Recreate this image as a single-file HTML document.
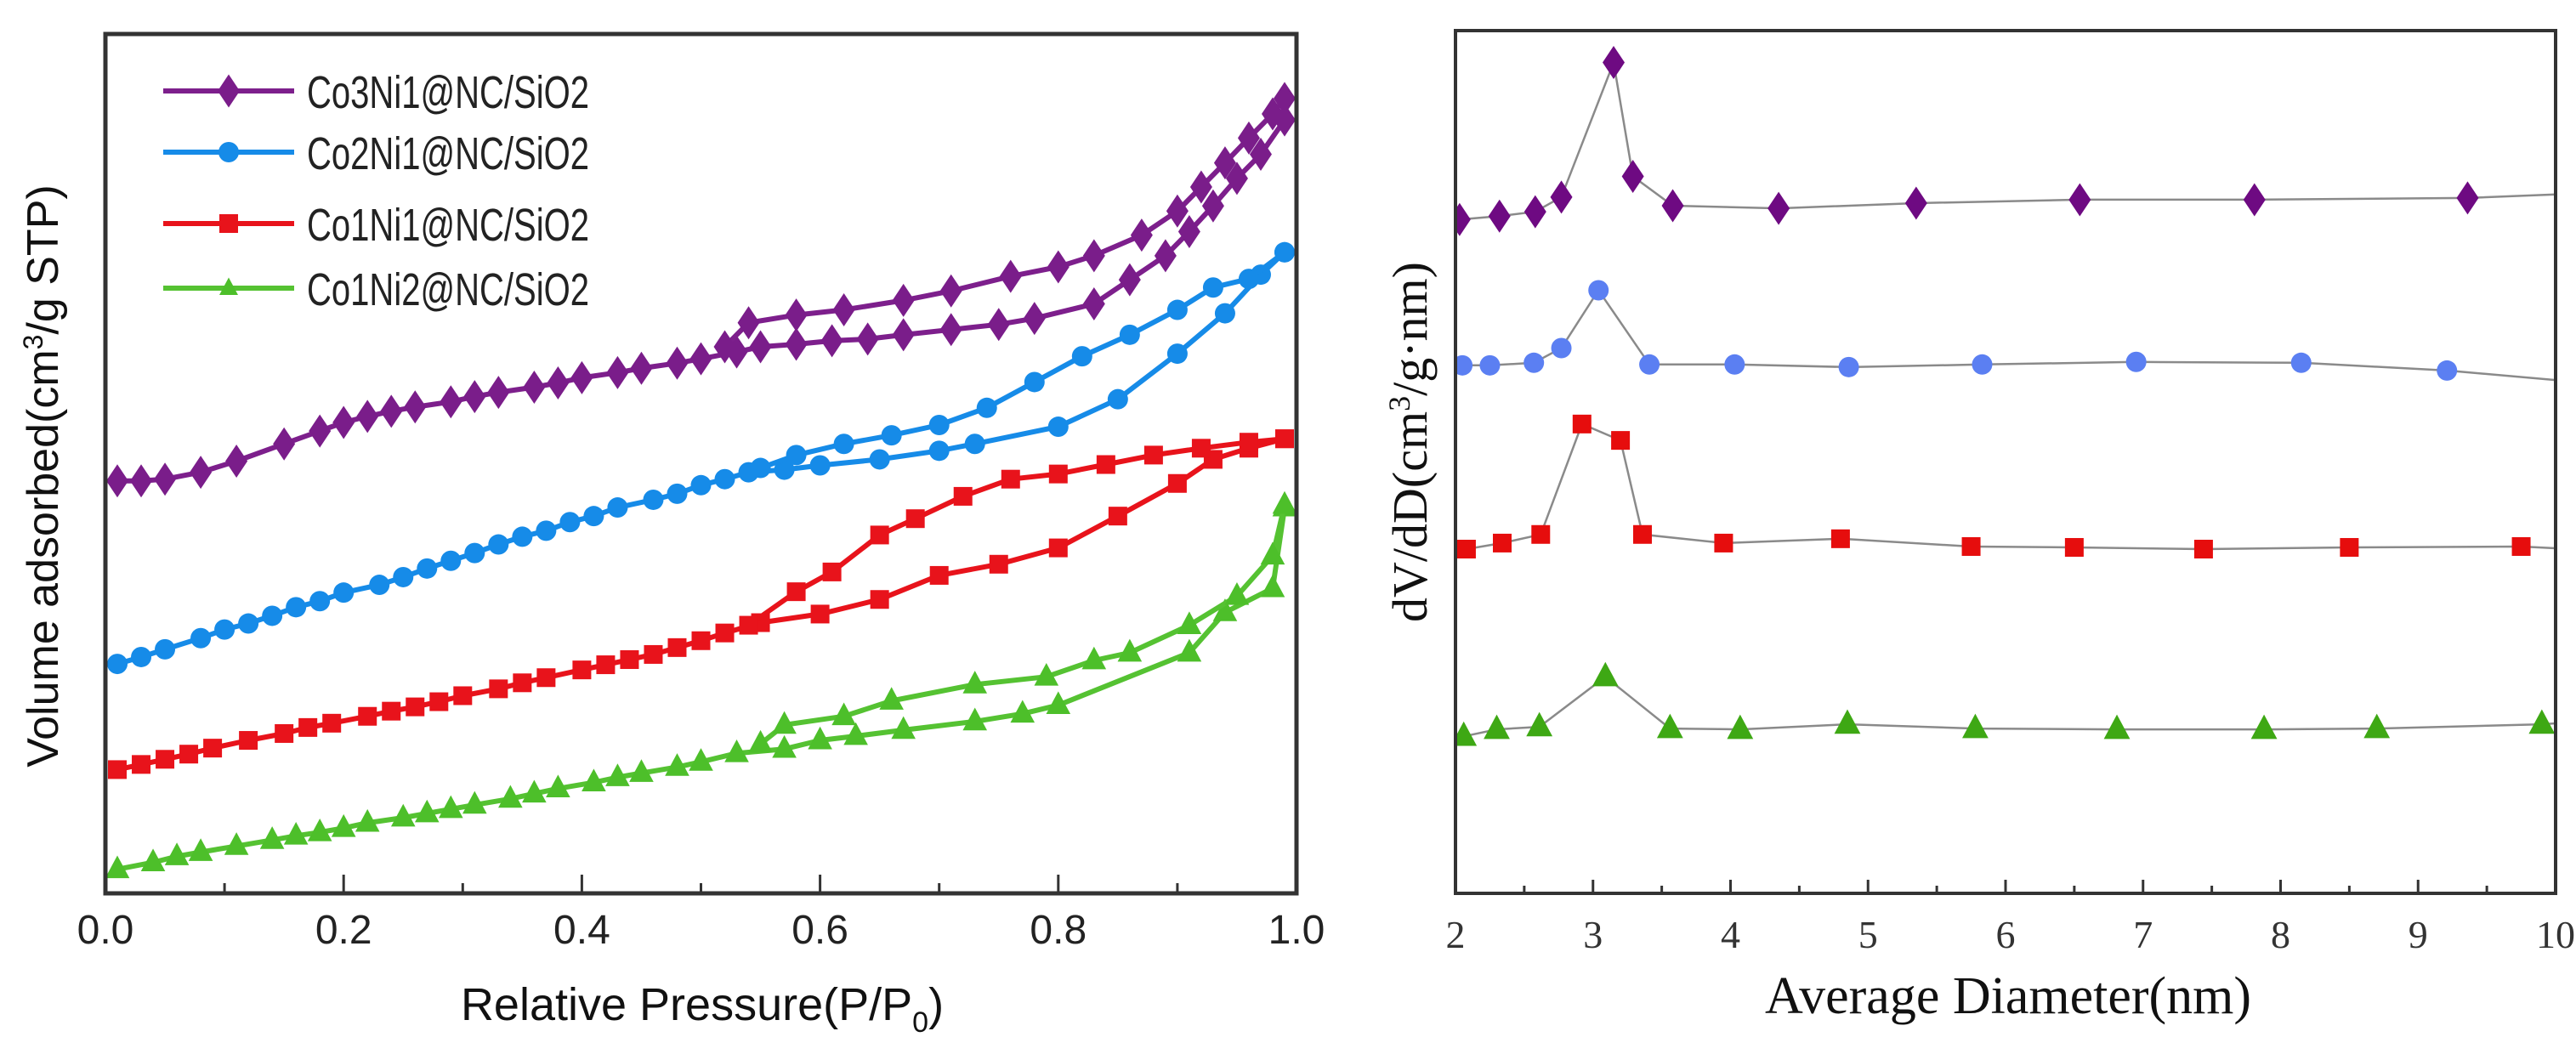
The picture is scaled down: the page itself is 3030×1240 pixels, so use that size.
<!DOCTYPE html>
<html><head><meta charset="utf-8"><style>
html,body{margin:0;padding:0;background:#fff;}
svg{display:block;}
</style></head><body>
<svg id="fig" width="3030" height="1240" viewBox="0 0 3030 1240" xmlns="http://www.w3.org/2000/svg">
<g id="left"></g>
<g id="right"></g>
</svg>
<script>
// ---------- Left chart data (relative pressure vs volume adsorbed, arbitrary units) ----------
const lTicks=[0,0.2,0.4,0.6,0.8,1.0];
const lTickLabels=["0.0","0.2","0.4","0.6","0.8","1.0"];
const legendNames=["Co3Ni1@NC/SiO2","Co2Ni1@NC/SiO2","Co1Ni1@NC/SiO2","Co1Ni2@NC/SiO2"];
const p1AdsX=[0.01,0.03,0.05,0.08,0.11,0.15,0.18,0.2,0.22,0.24,0.26,0.29,0.31,0.33,0.36,0.38,0.4,0.43,0.45,0.48,0.5,0.53,0.55,0.58,0.61,0.64,0.67,0.71,0.75,0.78,0.83,0.86,0.89,0.91,0.93,0.95,0.97,0.99];
const p1AdsY=[48,48,48.2,49,50.3,52.3,53.8,54.8,55.5,56.1,56.6,57.2,57.8,58.3,58.9,59.4,60,60.6,61.1,61.7,62.2,63,63.6,63.9,64.3,64.5,65,65.6,66.2,66.9,68.6,71.4,74.2,77,80,83.2,86,90];
const p1DesX=[0.52,0.54,0.58,0.62,0.67,0.71,0.76,0.8,0.83,0.87,0.9,0.92,0.94,0.96,0.98,0.99];
const p1DesY=[63.6,66.4,67.3,67.9,69,70.1,71.8,72.9,74.2,76.6,79.4,82.2,85,87.9,90.7,92.5];
const p2AdsX=[0.01,0.03,0.05,0.08,0.1,0.12,0.14,0.16,0.18,0.2,0.23,0.25,0.27,0.29,0.31,0.33,0.35,0.37,0.39,0.41,0.43,0.46,0.48,0.5,0.52,0.54,0.57,0.6,0.65,0.7,0.73,0.8,0.85,0.9,0.94,0.97,0.99];
const p2AdsY=[26.7,27.5,28.4,29.7,30.7,31.4,32.3,33.3,34,35,35.9,36.8,37.8,38.7,39.6,40.6,41.5,42.2,43.2,43.9,44.9,45.8,46.5,47.5,48.2,49,49.3,49.8,50.5,51.5,52.3,54.3,57.5,62.8,67.5,72,74.6];
const p2DesX=[0.55,0.58,0.62,0.66,0.7,0.74,0.78,0.82,0.86,0.9,0.93,0.96,0.99];
const p2DesY=[49.5,51,52.3,53.3,54.5,56.5,59.5,62.5,65,67.9,70.5,71.5,74.6];
const p3AdsX=[0.01,0.03,0.05,0.07,0.09,0.12,0.15,0.17,0.19,0.22,0.24,0.26,0.28,0.3,0.33,0.35,0.37,0.4,0.42,0.44,0.46,0.48,0.5,0.52,0.55,0.6,0.65,0.7,0.75,0.8,0.85,0.9,0.93,0.96,0.99];
const p3AdsY=[14.4,15,15.6,16.2,16.9,17.8,18.6,19.3,19.8,20.6,21.2,21.7,22.3,23,23.8,24.5,25.1,26,26.6,27.2,27.8,28.6,29.4,30.3,31.5,32.5,34.2,37,38.3,40.2,43.9,47.7,50.5,51.8,52.9];
const p3DesX=[0.54,0.58,0.61,0.65,0.68,0.72,0.76,0.8,0.84,0.88,0.92,0.96,0.99];
const p3DesY=[31.2,35.1,37.4,41.7,43.6,46.2,48.2,48.8,49.9,51,51.8,52.5,52.9];
const p4AdsX=[0.01,0.04,0.06,0.08,0.11,0.14,0.16,0.18,0.2,0.22,0.25,0.27,0.29,0.31,0.34,0.36,0.38,0.41,0.43,0.45,0.48,0.5,0.53,0.57,0.6,0.63,0.67,0.73,0.77,0.8,0.91,0.94,0.98,0.99];
const p4AdsY=[2.8,3.6,4.3,4.8,5.5,6.2,6.7,7.1,7.6,8.2,8.8,9.3,9.8,10.3,11,11.6,12.2,12.9,13.5,14,14.7,15.3,16.3,16.8,17.8,18.3,19,20,20.9,21.9,28,32.7,35.5,44.9];
const p4DesX=[0.55,0.57,0.62,0.66,0.73,0.79,0.83,0.86,0.91,0.95,0.98,0.99];
const p4DesY=[17.4,19.6,20.6,22.4,24.3,25.2,27.1,28,31.2,34.6,39.3,45.2];

// ---------- Right chart data (pore diameter vs dV/dD, offset curves) ----------
const rTicks=[2,3,4,5,6,7,8,9,10];
const rTickLabels=["2","3","4","5","6","7","8","9","10"];
const r1X=[2.03,2.32,2.58,2.77,3.15,3.29,3.58,4.35,5.35,6.54,7.81,9.36];
const r1Y=[78.1,78.5,79,80.7,96.3,83.1,79.7,79.4,80,80.4,80.4,80.6];
const r2X=[2.05,2.25,2.57,2.77,3.04,3.41,4.03,4.86,5.83,6.95,8.15,9.21];
const r2Y=[61.2,61.2,61.5,63.2,69.9,61.3,61.3,61,61.3,61.6,61.5,60.6];
const r3X=[2.08,2.34,2.62,2.92,3.2,3.36,3.95,4.8,5.75,6.5,7.44,8.5,9.75];
const r3Y=[39.9,40.6,41.6,54.4,52.5,41.6,40.6,41.1,40.2,40.1,39.9,40.1,40.2];
const r4X=[2.06,2.3,2.61,3.09,3.56,4.07,4.85,5.78,6.81,7.88,8.7,9.9];
const r4Y=[18.2,19,19.3,25.1,19.1,19,19.6,19.1,19,19,19.1,19.6];
const rTailY=[81,59.5,40,19.7];

const NS="http://www.w3.org/2000/svg";
function mk(parent,tag,attrs){const e=document.createElementNS(NS,tag);for(const k in attrs)e.setAttribute(k,attrs[k]);parent.appendChild(e);return e;}

// ---- left axes ----
const L={x0:124,x1:1525,y0:1051,y1:40};
const lx=v=>L.x0+(v-0)/(1-0)*(L.x1-L.x0);
const ly=v=>L.y0-(v/100)*(L.y0-L.y1);
const left=document.getElementById('left');

function marker(g,shape,x,y,color,s){
  let e;
  if(shape==='diamond'){e=mk(g,'polygon',{points:`${x},${y-s*1.5} ${x+s},${y} ${x},${y+s*1.5} ${x-s},${y}`,fill:color});}
  else if(shape==='circle'){e=mk(g,'circle',{cx:x,cy:y,r:s,fill:color});}
  else if(shape==='square'){e=mk(g,'rect',{x:x-s,y:y-s,width:2*s,height:2*s,fill:color});}
  else {e=mk(g,'polygon',{points:`${x},${y-s*1.25} ${x+s*1.1},${y+s*0.8} ${x-s*1.1},${y+s*0.8}`,fill:color});}
  return e;
}

const lSeries=[
 {ax:p1AdsX,ay:p1AdsY,dx:p1DesX,dy:p1DesY,color:'#7d1f8c',mc:'#7a1d8a',shape:'diamond',s:13,name:'co3ni1'},
 {ax:p2AdsX,ay:p2AdsY,dx:p2DesX,dy:p2DesY,color:'#168be8',mc:'#168be8',shape:'circle',s:12,name:'co2ni1'},
 {ax:p3AdsX,ay:p3AdsY,dx:p3DesX,dy:p3DesY,color:'#e8131b',mc:'#e8131b',shape:'square',s:11,name:'co1ni1'},
 {ax:p4AdsX,ay:p4AdsY,dx:p4DesX,dy:p4DesY,color:'#55c232',mc:'#4dbf2a',shape:'triangle',s:13,name:'co1ni2'}
];
lSeries.forEach(S=>{
  const g=mk(left,'g',{});
  
  
  [[S.ax,S.ay,'adsorption'],[S.dx,S.dy,'desorption']].forEach(([xs,ys,br])=>{
    const pts=xs.map((v,i)=>lx(v).toFixed(1)+','+ly(ys[i]).toFixed(1)).join(' ');
    const pl=mk(g,'polyline',{points:pts,fill:'none',stroke:S.color,'stroke-width':6,'stroke-linejoin':'round'});
    
    
    xs.forEach((v,i)=>{
      const m=marker(g,S.shape,lx(v),ly(ys[i]),S.mc,S.s);
      
      
    });
  });
});
// frame & ticks
const lf=mk(left,'rect',{x:L.x0,y:L.y1,width:L.x1-L.x0,height:L.y0-L.y1,fill:'none',stroke:'#333',"stroke-width":5});


for(let i=1;i<10;i++){
  const v=i/10, maj=(i%2===0);
  const t=mk(left,'line',{x1:lx(v),x2:lx(v),y1:L.y0,y2:L.y0-(maj?22:12),stroke:'#333','stroke-width':3});
  
  
}
lTicks.forEach((v,i)=>{
  const t=mk(left,'text',{x:lx(v),y:1110,'text-anchor':'middle','font-family':'Liberation Sans, sans-serif','font-size':48,fill:'#222'});
  t.textContent=lTickLabels[i];
  
  
});
{
 const t=mk(left,'text',{x:826,y:1200,'text-anchor':'middle','font-family':'Liberation Sans, sans-serif','font-size':54,fill:'#111'});
 t.innerHTML='Relative Pressure(P/P<tspan font-size="34" dy="14">0</tspan><tspan dy="-14">)</tspan>';
 
 
 const y=mk(left,'text',{x:0,y:0,'text-anchor':'middle','font-family':'Liberation Sans, sans-serif','font-size':52,fill:'#111',transform:'translate(68,560) rotate(-90)'});
 y.innerHTML='Volume adsorbed(cm<tspan font-size="32" dy="-18">3</tspan><tspan dy="18">/g STP)</tspan>';
 
 
}
// legend
const legY=[107,179,263,339];
const lg=mk(left,'g',{});


lSeries.forEach((S,i)=>{
  const e=mk(lg,'g',{});
  
  
  mk(e,'line',{x1:192,x2:346,y1:legY[i],y2:legY[i],stroke:S.color,'stroke-width':6});
  marker(e,S.shape,269,legY[i],S.mc,S.shape==='triangle'?10:S.s);
  const t=mk(e,'text',{x:361,y:legY[i]+20,'font-family':'Liberation Sans, sans-serif','font-size':54,fill:'#222',textLength:332,lengthAdjust:'spacingAndGlyphs'});
  t.textContent=legendNames[i];
});

// ---- right axes ----
const R={x0:1712,x1:3006,y0:1051,y1:36};
const rx=v=>R.x0+(v-2)/(10-2)*(R.x1-R.x0);
const ry=v=>R.y0-(v/100)*(R.y0-R.y1);
const right=document.getElementById('right');
const rSeries=[
 {x:r1X,y:r1Y,mc:'#6e0a82',shape:'diamond',s:13,name:'co3ni1'},
 {x:r2X,y:r2Y,mc:'#5b7ff2',shape:'circle',s:12,name:'co2ni1'},
 {x:r3X,y:r3Y,mc:'#e60d0d',shape:'square',s:11,name:'co1ni1'},
 {x:r4X,y:r4Y,mc:'#3ea814',shape:'triangle',s:14,name:'co1ni2'}
];
mk(right,'defs',{}).innerHTML='<clipPath id="rclip"><rect x="1712" y="36" width="1294" height="1015"/></clipPath>';
rSeries.forEach((S,k)=>{
  const g=mk(right,'g',{'clip-path':'url(#rclip)'});
  
  
  const pts=S.x.map((v,i)=>rx(v).toFixed(1)+','+ry(S.y[i]).toFixed(1));
  pts.push(rx(10)+','+ry(rTailY[k]).toFixed(1));
  const pl=mk(g,'polyline',{points:pts.join(' '),fill:'none',stroke:'#8a8a8a','stroke-width':2.5});
  
  
  S.x.forEach((v,i)=>{
    const m=marker(g,S.shape,rx(v),ry(S.y[i]),S.mc,S.s);
    
    
  });
});
const rf=mk(right,'rect',{x:R.x0,y:R.y1,width:R.x1-R.x0,height:R.y0-R.y1,fill:'none',stroke:'#333',"stroke-width":4});


for(let v=2.5;v<10;v+=0.5){
  const maj=Number.isInteger(v);
  const t=mk(right,'line',{x1:rx(v),x2:rx(v),y1:R.y0,y2:R.y0-(maj?16:9),stroke:'#333','stroke-width':3});
  
  
}
rTicks.forEach((v,i)=>{
  const t=mk(right,'text',{x:rx(v),y:1115,'text-anchor':'middle','font-family':'Liberation Serif, serif','font-size':46,fill:'#333'});
  t.textContent=rTickLabels[i];
  
  
});
{
 const t=mk(right,'text',{x:2362,y:1192,'text-anchor':'middle','font-family':'Liberation Serif, serif','font-size':62,fill:'#111'});
 t.textContent='Average Diameter(nm)';
 
 
 const y=mk(right,'text',{x:0,y:0,'text-anchor':'middle','font-family':'Liberation Serif, serif','font-size':58,fill:'#111',transform:'translate(1678,520) rotate(-90)'});
 y.innerHTML='dV/dD(cm<tspan font-size="36" dy="-20">3</tspan><tspan dy="20">/g·nm)</tspan>';
 
 
}
</script>
</body></html>
